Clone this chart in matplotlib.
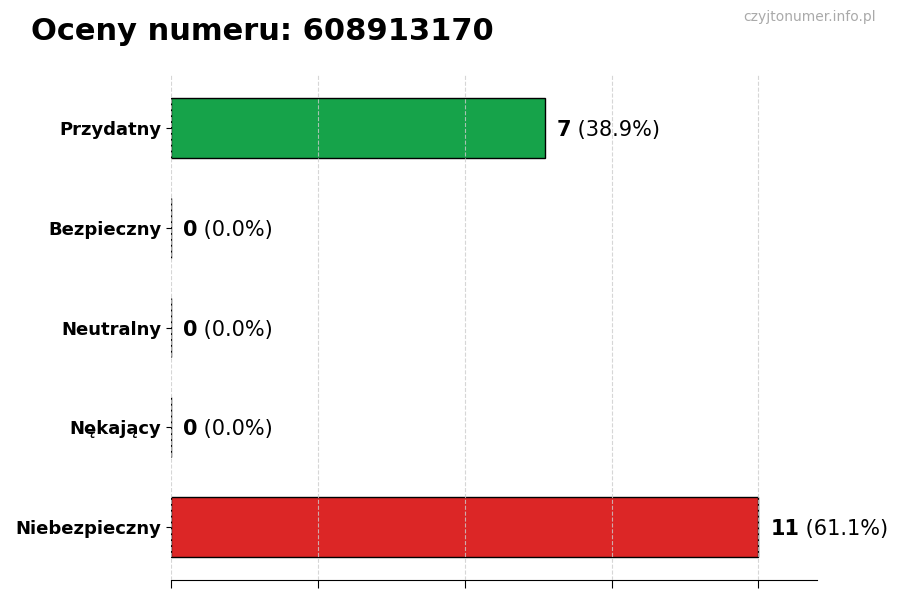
import matplotlib
matplotlib.use("Agg")
import matplotlib.pyplot as plt
import numpy as np

categories = ["Przydatny", "Bezpieczny", "Neutralny", "Nękający", "Niebezpieczny"]
counts = [7, 0, 0, 0, 11]
percents = ["38.9%", "0.0%", "0.0%", "0.0%", "61.1%"]
colors = ["#16a34a", "#9ca3af", "#6b7280", "#f59e0b", "#dc2626"]
title = "Oceny numeru: 608913170"
watermark = "czyjtonumer.info.pl"

fig = plt.figure(figsize=(9, 6), dpi=100)
ax = fig.add_axes([0.19, 0.0333, 0.718, 0.8417])

y = np.arange(len(categories))
ax.barh(y, counts, height=0.6, color=colors, edgecolor="black", linewidth=1, zorder=2)
ax.invert_yaxis()
ax.set_yticks(y)
ax.set_yticklabels(categories, fontsize=13, fontweight="bold")
mx = max(counts)
ax.set_xlim(0, mx * 1.1)
ax.set_xticks(np.linspace(0, mx, 5))
ax.set_xticklabels([])
ax.tick_params(axis="x", length=6)
ax.grid(axis="x", linestyle="--", color="#cccccc", alpha=0.8, linewidth=0.8, zorder=3)
ax.set_axisbelow(False)
for s in ["top", "right", "left"]:
    ax.spines[s].set_visible(False)

for yi, c, p in zip(y, counts, percents):
    t1 = ax.text(c + mx * 0.02, yi, str(c), fontsize=15, fontweight="bold", va="center_baseline", ha="left")
    ax.annotate(" (" + p + ")", xy=(1, 0.5), xycoords=t1, fontsize=15, va="center", ha="left")

fig.text(0.034, 0.948, title, fontsize=22, fontweight="bold", ha="left", va="center")
fig.text(0.973, 0.971, watermark, fontsize=10, color="#aaaaaa", ha="right", va="center")

fig.savefig("out.png", dpi=100)
